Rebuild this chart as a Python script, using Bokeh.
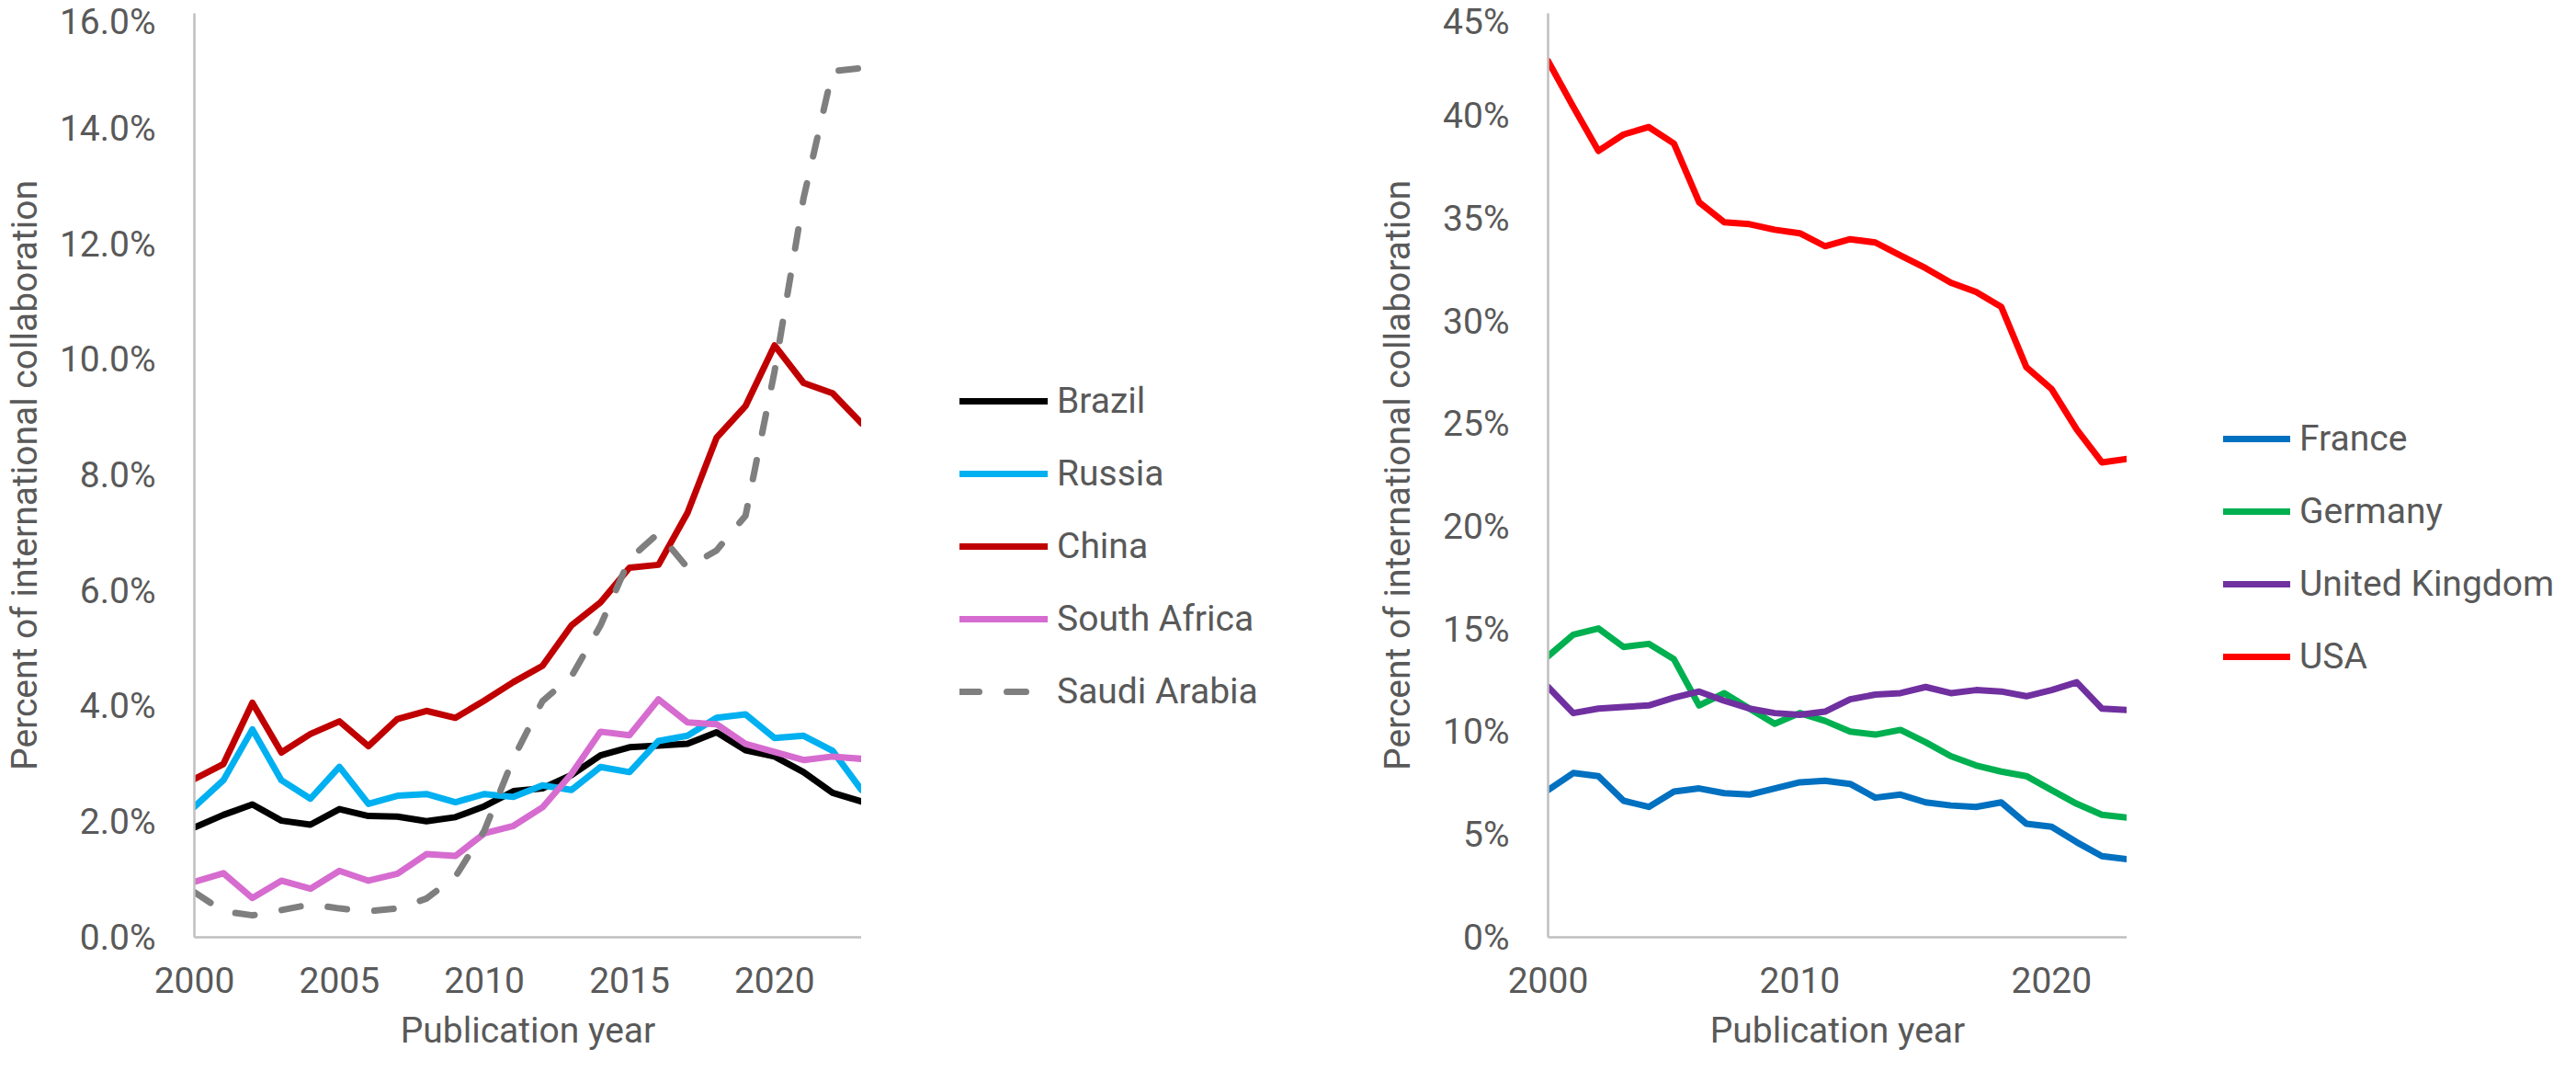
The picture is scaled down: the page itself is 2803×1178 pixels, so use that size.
from bokeh.plotting import figure
from bokeh.layouts import row
from bokeh.models import (Range1d, FixedTicker, PrintfTickFormatter, Legend,
                          LegendItem, ColumnDataSource)
from bokeh.embed import file_html
from bokeh.resources import INLINE

# ---------------- data (percent of international collaboration) ----------------
years = list(range(2000, 2024))

brazil = [1.90, 2.12, 2.30, 2.02, 1.95, 2.22, 2.10, 2.09, 2.01, 2.08, 2.27, 2.53,
          2.58, 2.81, 3.15, 3.29, 3.32, 3.35, 3.55, 3.24, 3.13, 2.86, 2.50, 2.35]
russia = [2.26, 2.72, 3.60, 2.72, 2.40, 2.95, 2.31, 2.45, 2.48, 2.34, 2.48, 2.43,
          2.63, 2.55, 2.95, 2.86, 3.40, 3.49, 3.80, 3.86, 3.45, 3.49, 3.23, 2.55]
china = [2.74, 3.00, 4.06, 3.20, 3.52, 3.74, 3.31, 3.78, 3.92, 3.80, 4.10, 4.42,
         4.70, 5.40, 5.80, 6.40, 6.45, 7.35, 8.65, 9.20, 10.25, 9.60, 9.42, 8.90]
south_africa = [0.96, 1.11, 0.68, 0.98, 0.84, 1.15, 0.98, 1.10, 1.44, 1.41, 1.80, 1.93,
                2.25, 2.83, 3.56, 3.50, 4.12, 3.72, 3.69, 3.35, 3.21, 3.07, 3.13, 3.09]
saudi_arabia = [0.78, 0.45, 0.38, 0.47, 0.57, 0.50, 0.45, 0.50, 0.67, 1.05, 1.85, 3.10,
                4.09, 4.52, 5.40, 6.55, 7.00, 6.40, 6.70, 7.30, 9.80, 12.80, 15.00, 15.05]

france = [7.17, 8.00, 7.85, 6.65, 6.35, 7.10, 7.25, 7.02, 6.95, 7.25, 7.55, 7.62,
          7.47, 6.80, 6.95, 6.57, 6.42, 6.35, 6.57, 5.53, 5.38, 4.63, 3.95, 3.80]
germany = [13.69, 14.74, 15.04, 14.14, 14.29, 13.54, 11.29, 11.89, 11.14, 10.40, 10.92, 10.54,
           10.02, 9.87, 10.10, 9.50, 8.82, 8.37, 8.07, 7.85, 7.17, 6.50, 5.97, 5.83]
united_kingdom = [12.19, 10.92, 11.14, 11.22, 11.29, 11.67, 11.97, 11.52, 11.14, 10.92, 10.84, 10.99,
                  11.59, 11.82, 11.89, 12.19, 11.89, 12.04, 11.97, 11.74, 12.04, 12.42, 11.14, 11.07]
usa = [42.68, 40.45, 38.30, 39.10, 39.46, 38.66, 35.80, 34.82, 34.73, 34.46, 34.29, 33.66,
       34.00, 33.84, 33.21, 32.59, 31.88, 31.43, 30.71, 27.77, 26.70, 24.73, 23.13, 23.30]

left_names = ["Brazil", "Russia", "China", "South Africa", "Saudi Arabia"]
right_names = ["France", "Germany", "United Kingdom", "USA"]
left_yticks = [0, 2, 4, 6, 8, 10, 12, 14, 16]
right_yticks = [0, 5, 10, 15, 20, 25, 30, 35, 40, 45]
left_xticks = [2000, 2005, 2010, 2015, 2020]
right_xticks = [2000, 2010, 2020]
y_title = "Percent of international collaboration"
x_title = "Publication year"

# ---------------- styling ----------------
FONT = "Roboto"
FS = "39px"
TXT = "#595959"
AXIS = "#BFBFBF"
LW = 7

left_colors = ["#000000", "#00B0F0", "#C00000", "#D66CCF", "#7F7F7F"]
left_dashes = ["solid", "solid", "solid", "solid", "21 30"]
right_colors = ["#0070C0", "#00B050", "#7030A0", "#FF0000"]
right_dashes = ["solid"] * 4

H = 1162
TOP = 14
BOTTOM = 143


def make_chart(width, border_left, ymax, yticks, fmt, xticks, ytitle_standoff):
    p = figure(width=width, height=H, output_backend="svg", toolbar_location=None,
               x_range=Range1d(2000, 2023), y_range=Range1d(0, ymax),
               min_border_left=border_left, min_border_right=0,
               min_border_top=TOP, min_border_bottom=BOTTOM)
    p.xgrid.visible = False
    p.ygrid.visible = False
    p.outline_line_color = None
    p.xaxis.ticker = FixedTicker(ticks=xticks)
    p.yaxis.ticker = FixedTicker(ticks=yticks)
    p.yaxis.formatter = PrintfTickFormatter(format=fmt)
    for ax in p.axis:
        ax.axis_line_color = AXIS
        ax.axis_line_width = 2.5
        ax.major_tick_line_color = None
        ax.minor_tick_line_color = None
        ax.major_tick_out = 0
        ax.major_tick_in = 0
        ax.major_label_text_font = FONT
        ax.major_label_text_font_size = FS
        ax.major_label_text_color = TXT
        ax.axis_label_text_font = FONT
        ax.axis_label_text_font_size = FS
        ax.axis_label_text_color = TXT
        ax.axis_label_text_font_style = "normal"
    p.yaxis.major_label_standoff = 42
    p.yaxis.axis_label = y_title
    p.yaxis.axis_label_standoff = ytitle_standoff
    p.xaxis.major_label_standoff = 32
    p.xaxis.axis_label = x_title
    p.xaxis.axis_label_standoff = 15
    return p


def add_series(p, series, colors, dashes):
    src = ColumnDataSource(dict(year=years, **{f"s{i}": s for i, s in enumerate(series)}))
    for i, (color, dash) in enumerate(zip(colors, dashes)):
        p.line(x="year", y=f"s{i}", source=src, line_color=color, line_width=LW,
               line_cap="round", line_join="round", line_dash=dash)


def make_legend(width, names, series, colors, dashes, glyph_width, standoff, spacing, loc):
    # separate, axis-less figure that only carries the legend
    lf = figure(width=width, height=H, output_backend="svg", toolbar_location=None,
                x_axis_location=None, y_axis_location=None,
                x_range=Range1d(0, 1), y_range=Range1d(0, 1),
                min_border_left=0, min_border_right=0,
                min_border_top=0, min_border_bottom=0)
    lf.xgrid.visible = False
    lf.ygrid.visible = False
    lf.outline_line_color = None
    items = []
    for name, s, color, dash in zip(names, series, colors, dashes):
        # a one-point line draws nothing, but gives the legend its swatch style
        r = lf.line(x=[years[0]], y=[s[0]], line_color=color, line_width=LW,
                    line_cap="round", line_join="round", line_dash=dash)
        items.append(LegendItem(label=name, renderers=[r]))
    leg = Legend(items=items, location=loc, orientation="vertical",
                 glyph_width=glyph_width, glyph_height=50, label_height=50,
                 label_standoff=standoff, spacing=spacing, padding=0, margin=0,
                 border_line_color=None, background_fill_alpha=0,
                 label_text_font=FONT, label_text_font_size=FS,
                 label_text_color=TXT)
    lf.add_layout(leg, "center")
    return lf


left_series = [brazil, russia, china, south_africa, saudi_arabia]
right_series = [france, germany, united_kingdom, usa]

# left chart: frame page x 218..945
left = make_chart(937, 210, 16, left_yticks, "%.1f%%", left_xticks, 12)
add_series(left, left_series, left_colors, left_dashes)
left_leg = make_legend(455, left_names, left_series, left_colors, left_dashes,
                       96, 10, 29, (107, 242))

# right chart: frame page x 1692..2322
right = make_chart(922, 292, 45, right_yticks, "%d%%", right_xticks, 23)
add_series(right, right_series, right_colors, right_dashes)
right_leg = make_legend(473, right_names, right_series, right_colors, right_dashes,
                        73, 10, 29, (105, 280))

layout = row(left, left_leg, right, right_leg)
open("out.html", "w").write(file_html(layout, INLINE))
